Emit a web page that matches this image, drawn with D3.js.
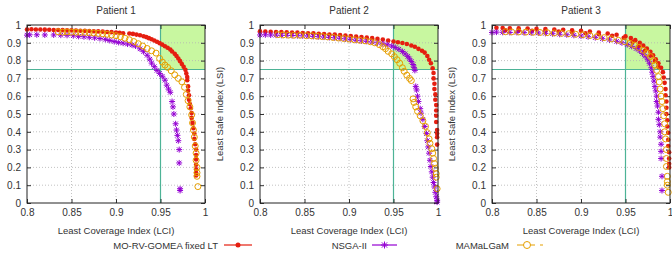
<!DOCTYPE html>
<html>
<head>
<meta charset="utf-8">
<script src="https://cdn.jsdelivr.net/npm/d3@7"></script>
<style>
body { margin: 0; background: #fff; }
svg { display: block; font-family: "Liberation Sans", Arial, sans-serif; }
</style>
</head>
<body>
<div id="chart"></div>
<script>
// chart text and ticks
var patients = ["Patient 1", "Patient 2", "Patient 3"];
var seriesNames = ["MO-RV-GOMEA fixed LT", "NSGA-II", "MAMaLGaM"];
var xTicks = [0.8, 0.85, 0.9, 0.95, 1];
var yTicks = [0, 0.1, 0.2, 0.3, 0.4, 0.5, 0.6, 0.7, 0.8, 0.9, 1];
var lciThreshold = 0.95, lsiThreshold = 0.75;

// fronts: [LCI, LSI]
var p1Gomea = [[0.800,0.975],[0.805,0.976],[0.810,0.975],[0.815,0.975],[0.820,0.974],[0.825,0.973],[0.830,0.972],[0.835,0.972],[0.840,0.971],[0.845,0.970],[0.850,0.970],[0.855,0.969],[0.860,0.968],[0.865,0.967],[0.870,0.966],[0.875,0.965],[0.880,0.964],[0.885,0.963],[0.890,0.961],[0.895,0.960],[0.900,0.958],[0.904,0.956],[0.908,0.954],[0.915,0.952],[0.919,0.950],[0.923,0.946],[0.927,0.942],[0.931,0.937],[0.934,0.932],[0.937,0.926],[0.940,0.920],[0.943,0.913],[0.946,0.906],[0.949,0.898],[0.952,0.890],[0.955,0.881],[0.958,0.872],[0.961,0.862],[0.963,0.851],[0.966,0.838],[0.968,0.826],[0.970,0.812],[0.972,0.797],[0.974,0.781],[0.976,0.765],[0.978,0.748],[0.979,0.728],[0.980,0.708],[0.980,0.690],[0.981,0.655],[0.981,0.630],[0.982,0.605],[0.982,0.580],[0.983,0.556],[0.984,0.532],[0.985,0.505],[0.985,0.478],[0.986,0.450],[0.987,0.420],[0.988,0.390],[0.988,0.360],[0.989,0.330],[0.990,0.300],[0.990,0.270],[0.990,0.245],[0.990,0.215],[0.990,0.190],[0.990,0.170],[0.990,0.155]];
var p1Nsga = [[0.800,0.943],[0.803,0.945],[0.811,0.945],[0.820,0.944],[0.830,0.944],[0.838,0.943],[0.845,0.942],[0.852,0.940],[0.858,0.936],[0.864,0.934],[0.870,0.931],[0.876,0.928],[0.882,0.924],[0.888,0.919],[0.893,0.913],[0.898,0.907],[0.903,0.902],[0.908,0.898],[0.913,0.893],[0.918,0.888],[0.922,0.882],[0.927,0.866],[0.931,0.850],[0.935,0.830],[0.938,0.808],[0.940,0.786],[0.943,0.766],[0.946,0.745],[0.949,0.728],[0.952,0.712],[0.955,0.690],[0.957,0.662],[0.959,0.640],[0.961,0.622],[0.963,0.570],[0.964,0.540],[0.965,0.500],[0.967,0.445],[0.968,0.410],[0.969,0.380],[0.970,0.350],[0.971,0.300],[0.971,0.225],[0.972,0.080],[0.972,0.070]];
var p1Mamalgam = [[0.835,0.962],[0.840,0.960],[0.845,0.961],[0.850,0.960],[0.855,0.959],[0.860,0.958],[0.865,0.958],[0.870,0.957],[0.875,0.955],[0.880,0.953],[0.885,0.951],[0.890,0.948],[0.895,0.944],[0.900,0.940],[0.905,0.934],[0.910,0.926],[0.915,0.917],[0.920,0.907],[0.925,0.895],[0.930,0.882],[0.935,0.868],[0.940,0.855],[0.945,0.842],[0.949,0.812],[0.952,0.792],[0.955,0.775],[0.958,0.762],[0.962,0.743],[0.966,0.720],[0.970,0.700],[0.974,0.681],[0.977,0.650],[0.979,0.610],[0.981,0.575],[0.983,0.540],[0.985,0.495],[0.986,0.450],[0.987,0.410],[0.988,0.370],[0.989,0.320],[0.990,0.280],[0.990,0.240],[0.991,0.200],[0.991,0.170],[0.991,0.150],[0.992,0.092]];

var p2Gomea = [[0.800,0.965],[0.806,0.963],[0.812,0.962],[0.818,0.961],[0.824,0.960],[0.830,0.959],[0.836,0.958],[0.842,0.957],[0.848,0.955],[0.854,0.954],[0.860,0.953],[0.866,0.951],[0.872,0.949],[0.878,0.947],[0.884,0.946],[0.890,0.944],[0.896,0.941],[0.902,0.938],[0.908,0.935],[0.914,0.932],[0.920,0.929],[0.926,0.926],[0.932,0.922],[0.938,0.918],[0.944,0.913],[0.950,0.907],[0.955,0.903],[0.960,0.899],[0.965,0.893],[0.970,0.885],[0.974,0.878],[0.978,0.866],[0.982,0.855],[0.985,0.845],[0.988,0.826],[0.990,0.805],[0.992,0.785],[0.994,0.757],[0.995,0.730],[0.995,0.700],[0.996,0.670],[0.996,0.640],[0.997,0.610],[0.997,0.580],[0.998,0.550],[0.998,0.520],[0.998,0.490],[0.998,0.455],[0.999,0.410],[0.999,0.390],[0.999,0.370],[0.999,0.328]];
var p2Nsga = [[0.800,0.944],[0.806,0.945],[0.812,0.944],[0.818,0.943],[0.824,0.942],[0.830,0.942],[0.836,0.941],[0.842,0.940],[0.848,0.939],[0.854,0.938],[0.860,0.936],[0.866,0.934],[0.872,0.932],[0.878,0.930],[0.884,0.928],[0.890,0.925],[0.896,0.922],[0.902,0.918],[0.908,0.914],[0.914,0.911],[0.920,0.908],[0.926,0.904],[0.932,0.900],[0.938,0.895],[0.943,0.889],[0.948,0.882],[0.952,0.874],[0.956,0.864],[0.960,0.851],[0.963,0.838],[0.966,0.824],[0.968,0.810],[0.970,0.795],[0.972,0.778],[0.973,0.762],[0.974,0.745],[0.975,0.655],[0.976,0.635],[0.977,0.600],[0.978,0.570],[0.980,0.530],[0.981,0.505],[0.983,0.470],[0.985,0.430],[0.987,0.390],[0.988,0.350],[0.989,0.315],[0.990,0.280],[0.991,0.240],[0.992,0.205],[0.993,0.175],[0.994,0.145],[0.995,0.115],[0.996,0.090],[0.997,0.060],[0.998,0.035],[0.999,0.015],[0.999,0.005]];
var p2Mamalgam = [[0.820,0.946],[0.826,0.944],[0.832,0.943],[0.838,0.942],[0.845,0.942],[0.852,0.940],[0.858,0.939],[0.864,0.937],[0.870,0.935],[0.876,0.933],[0.882,0.930],[0.888,0.927],[0.894,0.924],[0.900,0.921],[0.906,0.917],[0.912,0.914],[0.918,0.911],[0.924,0.906],[0.929,0.900],[0.934,0.890],[0.938,0.878],[0.941,0.867],[0.944,0.852],[0.948,0.838],[0.951,0.822],[0.954,0.805],[0.957,0.785],[0.960,0.760],[0.962,0.740],[0.965,0.718],[0.968,0.700],[0.970,0.688],[0.972,0.585],[0.973,0.565],[0.975,0.540],[0.977,0.515],[0.980,0.490],[0.983,0.462],[0.986,0.430],[0.988,0.395],[0.990,0.360],[0.991,0.335],[0.993,0.305],[0.994,0.280],[0.995,0.250],[0.996,0.222],[0.997,0.195],[0.998,0.165],[0.998,0.145],[0.999,0.080]];

var p3Gomea = [[0.805,0.984],[0.812,0.983],[0.820,0.982],[0.830,0.981],[0.840,0.980],[0.850,0.978],[0.860,0.977],[0.870,0.975],[0.880,0.973],[0.890,0.970],[0.900,0.967],[0.910,0.963],[0.920,0.958],[0.930,0.952],[0.940,0.945],[0.950,0.936],[0.956,0.927],[0.961,0.915],[0.966,0.900],[0.970,0.884],[0.974,0.868],[0.978,0.850],[0.981,0.830],[0.984,0.808],[0.987,0.785],[0.990,0.760],[0.992,0.735],[0.993,0.705],[0.994,0.675],[0.995,0.640],[0.995,0.605],[0.996,0.570],[0.996,0.535],[0.996,0.500],[0.997,0.465],[0.997,0.430],[0.998,0.395],[0.998,0.355],[0.998,0.320],[0.999,0.285],[0.999,0.250],[0.999,0.220],[0.999,0.200],
  [0.815,0.970],[0.830,0.969],[0.845,0.968],[0.860,0.966],[0.875,0.963],[0.890,0.959],[0.905,0.954],[0.920,0.948],[0.935,0.940],[0.948,0.928],[0.958,0.905],[0.965,0.882],[0.972,0.855],[0.978,0.828],[0.983,0.798],[0.987,0.765]];
var p3Nsga = [[0.800,0.958],[0.805,0.960],[0.812,0.959],[0.820,0.958],[0.828,0.958],[0.836,0.957],[0.844,0.956],[0.852,0.955],[0.860,0.953],[0.868,0.951],[0.876,0.948],[0.884,0.945],[0.892,0.942],[0.900,0.938],[0.908,0.934],[0.916,0.929],[0.924,0.923],[0.932,0.916],[0.940,0.908],[0.946,0.900],[0.952,0.890],[0.957,0.880],[0.962,0.868],[0.966,0.855],[0.969,0.840],[0.972,0.825],[0.975,0.805],[0.977,0.785],[0.979,0.760],[0.980,0.735],[0.981,0.710],[0.982,0.685],[0.983,0.655],[0.984,0.630],[0.985,0.600],[0.985,0.570],[0.986,0.545],[0.987,0.510],[0.987,0.470],[0.988,0.440],[0.989,0.400],[0.989,0.370],[0.990,0.330],[0.990,0.290],[0.990,0.250],[0.991,0.150],[0.991,0.070]];
var p3Mamalgam = [[0.815,0.962],[0.822,0.961],[0.830,0.961],[0.838,0.960],[0.846,0.959],[0.854,0.958],[0.862,0.957],[0.870,0.955],[0.878,0.953],[0.886,0.951],[0.894,0.948],[0.902,0.945],[0.910,0.941],[0.918,0.935],[0.926,0.929],[0.934,0.922],[0.942,0.914],[0.949,0.906],[0.955,0.897],[0.960,0.887],[0.965,0.874],[0.970,0.858],[0.974,0.842],[0.978,0.822],[0.981,0.800],[0.983,0.775],[0.985,0.745],[0.987,0.710],[0.988,0.680],[0.989,0.640],[0.990,0.600],[0.991,0.570],[0.992,0.530],[0.993,0.490],[0.994,0.445],[0.994,0.400],[0.995,0.360],[0.996,0.300],[0.996,0.250],[0.996,0.205],[0.997,0.150],[0.997,0.120],[0.997,0.100],[0.998,0.060]];

var panels = [
	{title: patients[0], gomea: p1Gomea, nsga: p1Nsga, mamalgam: p1Mamalgam},
	{title: patients[1], gomea: p2Gomea, nsga: p2Nsga, mamalgam: p2Mamalgam},
	{title: patients[2], gomea: p3Gomea, nsga: p3Nsga, mamalgam: p3Mamalgam}
];

var colRed = "#e51e10", colPurple = "#9400d3", colOrange = "#e69f00";
var colTeal = "#4db396", colFill = "#c8f7a0", colText = "#333";

var panelLeft = [27, 260, 492];
var plotTop = 25, plotW = 178, plotH = 178;

var svg = d3.select("#chart").append("svg")
	.attr("width", 672)
	.attr("height", 254);

var xScale = d3.scaleLinear().domain([0.8, 1]).range([0, plotW]);
var yScale = d3.scaleLinear().domain([0, 1]).range([plotH, 0]);

function drawStar(sel, s) {
	// gnuplot style asterisk: + and x
	sel.append("path").attr("d", "M" + (-s) + ",0H" + s + "M0," + (-s) + "V" + s +
		"M" + (-s*0.75) + "," + (-s*0.75) + "L" + (s*0.75) + "," + (s*0.75) +
		"M" + (-s*0.75) + "," + (s*0.75) + "L" + (s*0.75) + "," + (-s*0.75));
}

panels.forEach(function(p, i) {
	var g = svg.append("g")
		.attr("transform", "translate(" + panelLeft[i] + "," + plotTop + ")");

	// target region
	g.append("rect")
		.attr("x", xScale(lciThreshold)).attr("y", yScale(1))
		.attr("width", xScale(1) - xScale(lciThreshold))
		.attr("height", yScale(lsiThreshold) - yScale(1))
		.attr("fill", colFill);

	// dotted grid
	g.selectAll(".gx").data(xTicks.slice(1, -1)).enter().append("line")
		.attr("x1", d => xScale(d)).attr("x2", d => xScale(d))
		.attr("y1", 0).attr("y2", plotH)
		.attr("stroke", "#b4b4b4").attr("stroke-width", 0.8).attr("stroke-dasharray", "1,2");
	g.selectAll(".gy").data(yTicks.slice(1, -1)).enter().append("line")
		.attr("x1", 0).attr("x2", plotW)
		.attr("y1", d => yScale(d)).attr("y2", d => yScale(d))
		.attr("stroke", "#b4b4b4").attr("stroke-width", 0.8).attr("stroke-dasharray", "1,2");

	// threshold lines
	g.append("line")
		.attr("x1", xScale(lciThreshold)).attr("x2", xScale(lciThreshold))
		.attr("y1", yScale(0)).attr("y2", yScale(1))
		.attr("stroke", colTeal).attr("stroke-width", 1.2);
	g.append("line")
		.attr("x1", xScale(0.8)).attr("x2", xScale(1))
		.attr("y1", yScale(lsiThreshold)).attr("y2", yScale(lsiThreshold))
		.attr("stroke", colTeal).attr("stroke-width", 1.2);

	// axes, ticks pointing inward
	var fmt = d => String(d);
	var ax = g.append("g").attr("transform", "translate(0," + plotH + ")")
		.call(d3.axisBottom(xScale).tickValues(xTicks).tickSize(-4).tickPadding(6).tickFormat(fmt));
	var ay = g.append("g")
		.call(d3.axisLeft(yScale).tickValues(yTicks).tickSize(-4).tickPadding(6).tickFormat(fmt));
	var at = g.append("g")
		.call(d3.axisTop(xScale).tickValues(xTicks).tickSize(-4).tickFormat(""));
	var ar = g.append("g").attr("transform", "translate(" + plotW + ",0)")
		.call(d3.axisRight(yScale).tickValues(yTicks).tickSize(-4).tickFormat(""));
	[ax, ay, at, ar].forEach(function(a) {
		a.select(".domain").remove();
		a.selectAll("line").attr("stroke", "#333");
		a.selectAll("text").attr("fill", colText)
			.style("font-family", "'Liberation Sans', Arial, sans-serif").style("font-size", "10px");
	});

	// MO-RV-GOMEA: filled dots
	g.append("g").selectAll("circle").data(p.gomea).enter().append("circle")
		.attr("cx", d => xScale(d[0])).attr("cy", d => yScale(d[1]))
		.attr("r", 2.3).attr("fill", colRed);

	// NSGA-II: asterisks
	g.append("g").selectAll("g").data(p.nsga).enter().append("g")
		.attr("transform", d => "translate(" + xScale(d[0]) + "," + yScale(d[1]) + ")")
		.attr("stroke", colPurple).attr("stroke-width", 1)
		.each(function() { drawStar(d3.select(this), 3); });

	// MAMaLGaM: open circles
	g.append("g").selectAll("circle").data(p.mamalgam).enter().append("circle")
		.attr("cx", d => xScale(d[0])).attr("cy", d => yScale(d[1]))
		.attr("r", 3).attr("fill", "none").attr("stroke", colOrange).attr("stroke-width", 1);

	// frame
	g.append("rect").attr("width", plotW).attr("height", plotH)
		.attr("fill", "none").attr("stroke", "#222").attr("stroke-width", 1);

	// title and axis labels
	g.append("text").attr("x", plotW / 2).attr("y", -11)
		.attr("text-anchor", "middle").style("font-size", "10px").attr("fill", colText)
		.text(p.title);
	g.append("text").attr("x", plotW / 2).attr("y", plotH + 31)
		.attr("text-anchor", "middle").style("font-size", "9.5px").attr("fill", colText)
		.text("Least Coverage Index (LCI)");
	// the first panel's y label falls outside the page in the original
	if (i > 0) {
		g.append("text")
			.attr("transform", "translate(-37," + (plotH / 2) + ") rotate(-90)")
			.attr("text-anchor", "middle").style("font-size", "9.5px").attr("fill", colText)
			.text("Least Safe Index (LSI)");
	}
});

// legend
var legendY = 245;
var legend = [
	{name: seriesNames[0], textEnd: 218, x1: 224, x2: 252, color: colRed, mark: "dot"},
	{name: seriesNames[1], textEnd: 367, x1: 372, x2: 397, color: colPurple, mark: "star"},
	{name: seriesNames[2], textEnd: 509, x1: 517, x2: 545, color: colOrange, mark: "ring"}
];
legend.forEach(function(l) {
	svg.append("text").attr("x", l.textEnd).attr("y", legendY + 3.5)
		.attr("text-anchor", "end").style("font-size", "9.5px").attr("fill", colText)
		.text(l.name);
	var line = svg.append("line")
		.attr("x1", l.x1).attr("x2", l.x2).attr("y1", legendY).attr("y2", legendY)
		.attr("stroke", l.color).attr("stroke-width", 1.2);
	if (l.mark === "ring") line.attr("stroke-dasharray", "18,5,3,20");
	var cx = l.mark === "ring" ? l.x1 + 10 : (l.x1 + l.x2) / 2;
	if (l.mark === "dot") {
		svg.append("circle").attr("cx", cx).attr("cy", legendY).attr("r", 2.5).attr("fill", l.color);
	} else if (l.mark === "star") {
		var s = svg.append("g").attr("transform", "translate(" + cx + "," + legendY + ")")
			.attr("stroke", l.color).attr("stroke-width", 1);
		drawStar(s, 3.5);
	} else {
		svg.append("circle").attr("cx", cx).attr("cy", legendY).attr("r", 3.5)
			.attr("fill", "#fff").attr("stroke", l.color).attr("stroke-width", 1);
	}
});
</script>
</body>
</html>
